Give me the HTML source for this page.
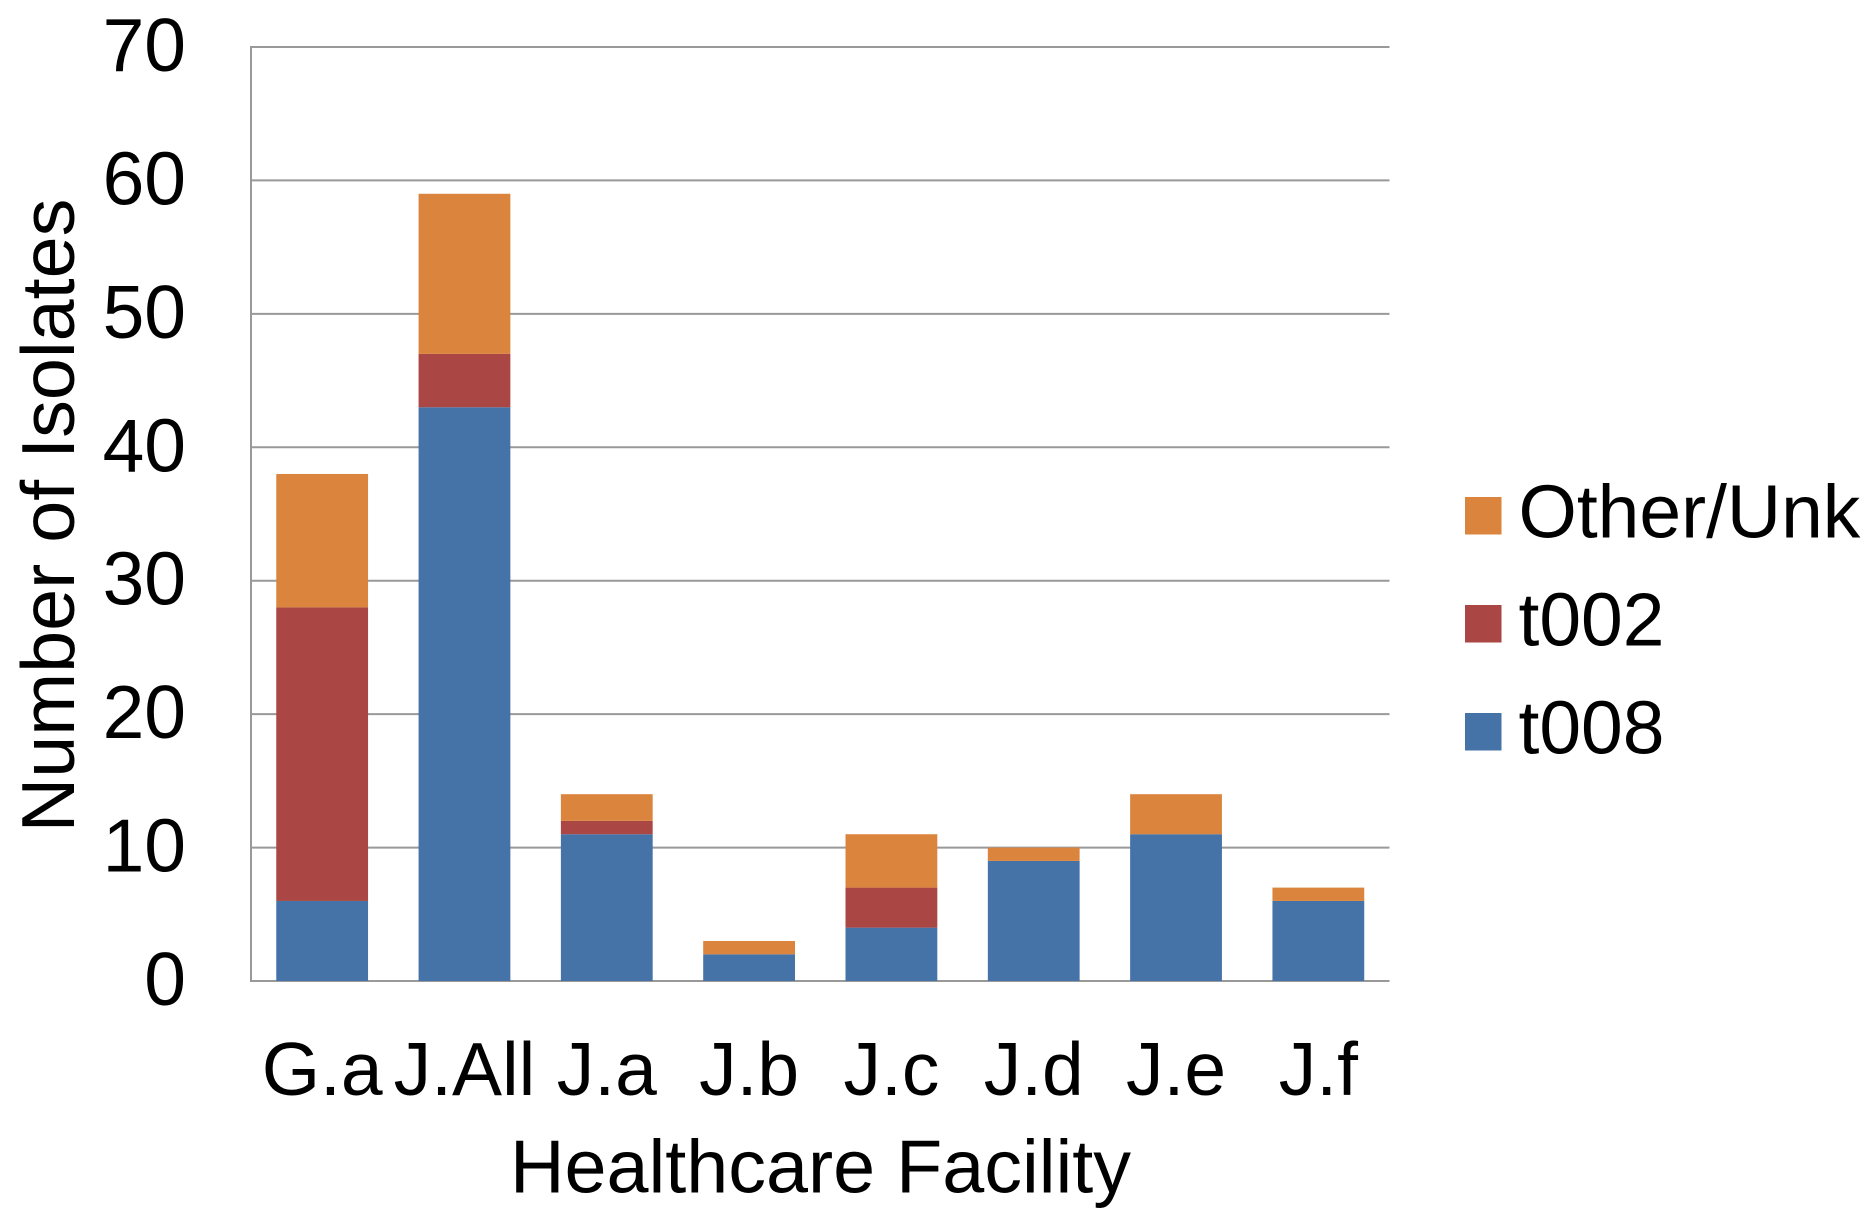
<!DOCTYPE html>
<html lang="en">
<head>
<meta charset="utf-8">
<title>Number of Isolates by Healthcare Facility</title>
<style>
  html, body { margin: 0; padding: 0; background: #fff; }
  #chart { display: block; width: 1876px; height: 1228px; }
  text { font-family: "Liberation Sans", Arial, sans-serif; font-size: 75px; fill: #000; }
  .axis-title { font-size: 75.5px; }
</style>
</head>
<body>
<svg id="chart" xmlns="http://www.w3.org/2000/svg" width="1876" height="1228" viewBox="0 0 1876 1228">
  <g id="grid"></g>
  <g id="bars"></g>
  <g id="y-ticks"></g>
  <g id="x-ticks"></g>
  <text class="axis-title" transform="translate(74 515.5) rotate(-90)" text-anchor="middle">Number of Isolates</text>
  <text class="axis-title" x="820.5" y="1192.5" text-anchor="middle">Healthcare Facility</text>
  <g>
    <g>
      <rect x="1465" y="497" width="36.5" height="37.5" fill="#DB843D"></rect>
      <text x="1518.5" y="537.5">Other/Unk</text>
    </g>
    <g>
      <rect x="1465" y="605" width="36.5" height="37.5" fill="#AA4643"></rect>
      <text x="1518.5" y="645.5">t002</text>
    </g>
    <g>
      <rect x="1465" y="713" width="36.5" height="37.5" fill="#4572A7"></rect>
      <text x="1518.5" y="753.5">t008</text>
    </g>
  </g>
</svg>
<script>
const categories = ["G.a", "J.All", "J.a", "J.b", "J.c", "J.d", "J.e", "J.f"];
const t008Values = [6, 43, 11, 2, 4, 9, 11, 6];
const t002Values = [22, 4, 1, 0, 3, 0, 0, 0];
const otherUnkValues = [10, 12, 2, 1, 4, 1, 3, 1];
const yTickLabels = [0, 10, 20, 30, 40, 50, 60, 70];

const SVG_NS = "http://www.w3.org/2000/svg";
const plot = { left: 251, right: 1389.5, top: 47, bottom: 981, yMax: 70 };
const bandWidth = (plot.right - plot.left) / categories.length;
const barWidth = bandWidth * 0.645;

function yScale(v) {
  return plot.bottom - (v / plot.yMax) * (plot.bottom - plot.top);
}
function xCenter(i) {
  return plot.left + bandWidth * (i + 0.5);
}
function make(tag, attrs) {
  const el = document.createElementNS(SVG_NS, tag);
  for (const k in attrs) el.setAttribute(k, attrs[k]);
  return el;
}

const gridG = document.getElementById("grid");
const barsG = document.getElementById("bars");
const yTicksG = document.getElementById("y-ticks");
const xTicksG = document.getElementById("x-ticks");
const gridColor = "#999999";

yTickLabels.forEach(function (t) {
  const line = make("line", { x1: plot.left, x2: plot.right, y1: yScale(t), y2: yScale(t), stroke: gridColor, "stroke-width": 2 });
  
  
  gridG.appendChild(line);

  const label = make("text", { x: 186, y: yScale(t) + 24, "text-anchor": "end" });
  
  
  label.textContent = t;
  yTicksG.appendChild(label);
});

const yAxis = make("line", { x1: plot.left, x2: plot.left, y1: yScale(plot.yMax) - 1, y2: yScale(0) + 1, stroke: gridColor, "stroke-width": 2 });


gridG.appendChild(yAxis);

const seriesList = [
  { key: "t008", values: t008Values, color: "#4572A7" },
  { key: "t002", values: t002Values, color: "#AA4643" },
  { key: "other-unk", values: otherUnkValues, color: "#DB843D" }
];

categories.forEach(function (cat, i) {
  let cumulative = 0;
  seriesList.forEach(function (s) {
    const v = s.values[i];
    const y0 = yScale(cumulative);
    const y1 = yScale(cumulative + v);
    cumulative += v;
    if (v <= 0) return;
    const bar = make("rect", { x: xCenter(i) - barWidth / 2, y: y1, width: barWidth, height: y0 - y1, fill: s.color });
    
    
    bar.setAttribute('data-series', s.key);
    bar.setAttribute('data-category', cat);
    barsG.appendChild(bar);
  });

  const label = make("text", { x: xCenter(i), y: 1095, "text-anchor": "middle" });
  
  
  label.textContent = cat;
  xTicksG.appendChild(label);
});
</script>
</body>
</html>
